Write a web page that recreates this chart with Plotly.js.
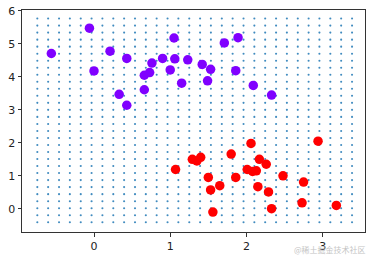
<!DOCTYPE html>
<html>
<head>
<meta charset="utf-8">
<script src="https://cdn.plot.ly/plotly-3.0.1.min.js"></script>
<style>html,body{margin:0;padding:0;background:#fff;}#chart{width:373px;height:257px;}</style>
</head>
<body>
<div id="chart"></div>
<script>
// Mesh grid coordinates
const gridX = [-0.744,-0.602,-0.459,-0.317,-0.174,-0.032,0.110,0.253,0.395,0.538,0.680,0.822,0.965,1.107,1.250,1.392,1.534,1.677,1.819,1.962,2.104,2.246,2.389,2.531,2.674,2.816,2.958,3.101,3.243,3.386];
const gridY = [-0.410,-0.197,0.016,0.229,0.442,0.656,0.869,1.082,1.295,1.508,1.721,1.934,2.147,2.360,2.573,2.787,3.000,3.213,3.426,3.639,3.852,4.065,4.278,4.491,4.704,4.918,5.131,5.344,5.557,5.770];

// Class 0 (purple)
const purpleX = [-0.06,-0.56,0.21,0.43,0.00,0.76,0.73,0.66,0.66,0.33,0.43,0.90,1.05,1.71,1.89,1.06,1.23,1.42,1.53,1.86,1.00,1.49,1.15,2.09,2.33];
const purpleY = [5.48,4.71,4.78,4.56,4.18,4.42,4.13,4.05,3.61,3.47,3.14,4.56,5.18,5.03,5.19,4.55,4.52,4.38,4.23,4.19,4.21,3.88,3.81,3.74,3.45];

// Class 1 (red)
const redX = [1.07,1.29,1.35,1.40,1.80,2.06,1.50,1.53,1.65,1.86,1.56,2.01,2.08,2.13,2.17,2.26,2.48,2.75,2.15,2.29,2.73,3.18,2.33,2.94];
const redY = [1.19,1.50,1.45,1.56,1.66,1.98,0.95,0.57,0.70,0.95,-0.10,1.19,1.13,1.15,1.50,1.35,1.00,0.81,0.67,0.51,0.18,0.10,0.00,2.05];

const xTicks = [0,1,2,3];
const yTicks = [0,1,2,3,4,5,6];
const watermark = "@稀土掘金技术社区";

const mx = [], my = [];
for (const yv of gridY) for (const xv of gridX) { mx.push(xv); my.push(yv); }

const traces = [
  {x: mx, y: my, mode: 'markers', type: 'scatter', hoverinfo: 'skip',
   marker: {size: 2.1, color: '#1f77b4', opacity: 0.85}},
  {x: purpleX, y: purpleY, mode: 'markers', type: 'scatter',
   marker: {size: 9.5, color: '#8000ff', line: {width: 0}}},
  {x: redX, y: redY, mode: 'markers', type: 'scatter',
   marker: {size: 9.5, color: '#ff0000', line: {width: 0}}}
];

const axisCommon = {
  showgrid: false, zeroline: false, showline: true, mirror: true,
  linecolor: '#333', linewidth: 1, ticks: 'outside', ticklen: 3.5,
  tickcolor: '#333', tickwidth: 1,
  tickfont: {family: 'DejaVu Sans', size: 11, color: '#222'}
};

const layout = {
  width: 373, height: 257,
  margin: {l: 22, r: 8, t: 10, b: 25},
  paper_bgcolor: '#fff', plot_bgcolor: '#fff',
  showlegend: false,
  xaxis: Object.assign({}, axisCommon, {range: [-0.945, 3.556], tickvals: xTicks, ticktext: xTicks.map(String)}),
  yaxis: Object.assign({}, axisCommon, {range: [-0.706, 6.03], tickvals: yTicks, ticktext: yTicks.map(String)}),
  annotations: [{
    text: watermark, xref: 'paper', yref: 'paper', x: 1.01, y: -0.078,
    xanchor: 'right', yanchor: 'middle', showarrow: false,
    font: {family: 'Noto Sans CJK SC', size: 8, color: '#c4c4c4'}
  }]
};

Plotly.newPlot('chart', traces, layout, {displayModeBar: false, staticPlot: true});
</script>
</body>
</html>
